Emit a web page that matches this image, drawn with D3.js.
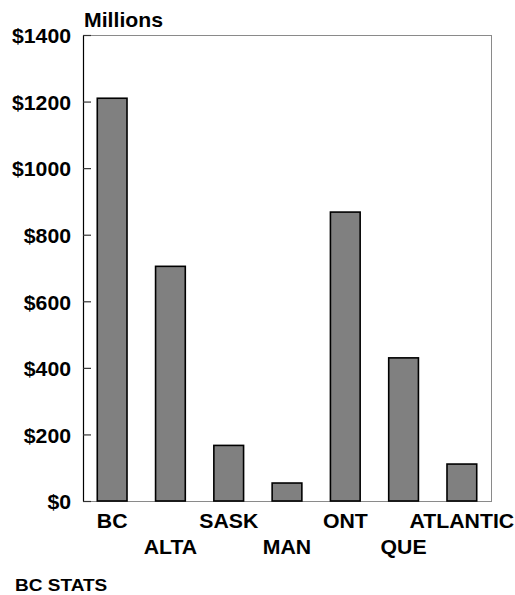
<!DOCTYPE html>
<html>
<head>
<meta charset="utf-8">
<script src="https://cdn.jsdelivr.net/npm/d3@7"></script>
<style>
  html, body { margin: 0; padding: 0; background: #fff; }
  svg { display: block; }
  text { font-family: "Liberation Sans", Arial, Helvetica, sans-serif; font-weight: bold; fill: #000; }
</style>
</head>
<body>
<svg id="chart" width="515" height="595"></svg>
<script>
// Provincial totals, millions of dollars
const regions = ["BC", "ALTA", "SASK", "MAN", "ONT", "QUE", "ATLANTIC"];
const amounts = [1210, 705, 167, 54, 868, 430, 111];
const yTicks = [0, 200, 400, 600, 800, 1000, 1200, 1400];
const unitLabel = "Millions";
const sourceLabel = "BC STATS";

const svg = d3.select("#chart");
const plot = { left: 83, right: 491, top: 35, bottom: 501 };
const sx = 1.09; // slightly widened lettering

const x = d3.scaleBand()
  .domain(regions)
  .range([plot.left, plot.right])
  .paddingInner(0.49)
  .paddingOuter(0.245);

const y = d3.scaleLinear()
  .domain([0, 1400])
  .range([plot.bottom, plot.top]);

// plot frame
svg.append("rect")
  .attr("x", plot.left + 0.5)
  .attr("y", plot.top + 0.5)
  .attr("width", plot.right - plot.left)
  .attr("height", plot.bottom - plot.top)
  .attr("fill", "none")
  .attr("stroke", "#8a8a8a")
  .attr("stroke-width", 1);

// bars
svg.append("g")
  .selectAll("rect")
  .data(regions)
  .join("rect")
  .attr("x", d => x(d))
  .attr("y", (d, i) => y(amounts[i]))
  .attr("width", x.bandwidth())
  .attr("height", (d, i) => y(0) - y(amounts[i]))
  .attr("fill", "#808080")
  .attr("stroke", "#000")
  .attr("stroke-width", 1.6);

// value axis, ticks pointing into the plot
const yAxis = d3.axisLeft(y)
  .tickValues(yTicks)
  .tickFormat(d => "$" + d)
  .tickSizeInner(-8)
  .tickSizeOuter(0)
  .tickPadding(12);

const gy = svg.append("g")
  .attr("transform", `translate(${plot.left},0)`)
  .call(yAxis);
gy.select(".domain").attr("stroke", "#000").attr("stroke-width", 1.2);
gy.selectAll(".tick line").attr("stroke", "#333").attr("stroke-width", 1.2);
gy.selectAll(".tick text")
  .attr("font-size", 19.5)
  .attr("font-family", null)
  .attr("x", -12 / sx)
  .attr("dy", "0.4em")
  .attr("transform", `scale(${sx},1)`);

// category labels, alternating between two rows
const rowBaselines = [528, 554];
svg.append("g")
  .selectAll("text")
  .data(regions)
  .join("text")
  .attr("text-anchor", "middle")
  .attr("font-size", 19.5)
  .attr("transform", (d, i) =>
    `translate(${x(d) + x.bandwidth() / 2},${rowBaselines[i % 2]}) scale(${sx},1)`)
  .text(d => d);

// unit caption above the axis
svg.append("text")
  .attr("font-size", 19.5)
  .attr("transform", `translate(${plot.left + 1},27) scale(${sx},1)`)
  .text(unitLabel);

// source note
svg.append("text")
  .attr("font-size", 17)
  .attr("transform", `translate(15,591) scale(${sx + 0.03},1)`)
  .text(sourceLabel);
</script>
</body>
</html>
